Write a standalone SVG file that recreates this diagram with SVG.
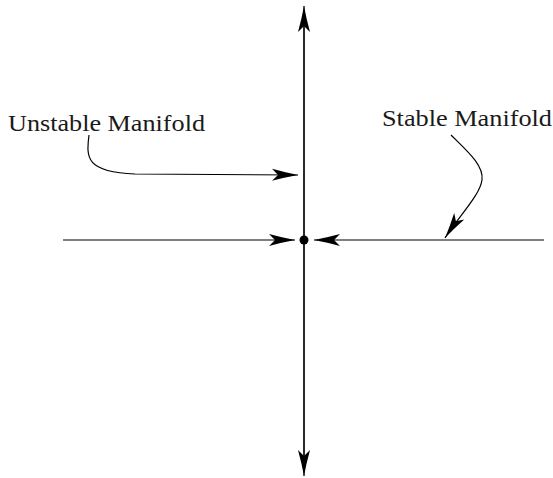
<svg xmlns="http://www.w3.org/2000/svg" width="553" height="478" viewBox="0 0 553 478">
<style>
.ax{stroke:#000;stroke-width:1.2;fill:none}
.cn{stroke:#000;stroke-width:1.2;fill:none}
.lbl{font-family:"Liberation Serif","DejaVu Serif",serif;font-size:24px;fill:#1a1a1a}
</style>
<defs>
<marker id="ah" markerUnits="userSpaceOnUse" markerWidth="30" markerHeight="16" viewBox="-28 -8 30 16" refX="0" refY="0" orient="auto">
<path d="M0,0 Q-12,-2.2 -26,-6 L-20,0 L-26,6 Q-12,2.2 0,0 Z" fill="#000"/>
</marker>
</defs>
<g id="connectors">
<line class="ax" x1="304" y1="470" x2="304" y2="6" marker-end="url(#ah)"/>
<line class="ax" x1="304" y1="10" x2="304" y2="476" marker-end="url(#ah)"/>
<line class="ax" x1="63" y1="240" x2="295" y2="240" marker-end="url(#ah)"/>
<line class="ax" x1="544" y1="240" x2="314" y2="240" marker-end="url(#ah)"/>
<path class="cn" d="M89,135 C86,158 86,172 135,174 L298,175" marker-end="url(#ah)"/>
<path class="cn" d="M451,135 C466,150 484,165 482,180 C480,195 460,215 445,238" marker-end="url(#ah)"/>
</g>
<g id="node-fixed-point">
<circle cx="304" cy="240" r="4.5" fill="#000"/>
</g>
<g id="node-unstable-label">
<text class="lbl" x="8" y="131" textLength="197" lengthAdjust="spacingAndGlyphs">Unstable Manifold</text>
</g>
<g id="node-stable-label">
<text class="lbl" x="382" y="126" textLength="170" lengthAdjust="spacingAndGlyphs">Stable Manifold</text>
</g>
</svg>
